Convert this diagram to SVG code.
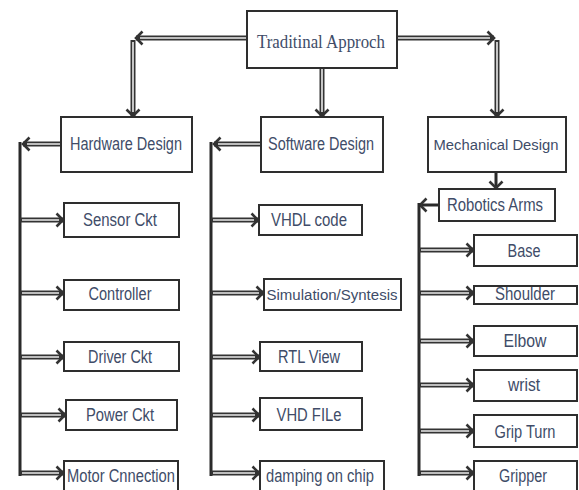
<svg xmlns="http://www.w3.org/2000/svg" width="579" height="490" viewBox="0 0 579 490">
<style>
.box{fill:#fff;stroke:#2e2e2e;stroke-width:2}
.lbl{font-family:"Liberation Sans",Arial,sans-serif;font-size:17.5px;fill:#404c68;text-anchor:middle}
.sm{font-size:15.5px}
.ttl{font-family:"Liberation Serif","Times New Roman",serif;font-size:19px;fill:#404c68;text-anchor:middle}
.sh{fill:none;stroke:#333;stroke-width:5}
.in{fill:none;stroke:#ececec;stroke-width:1.6}
.trunk{fill:none;stroke:#2a2a2a;stroke-width:3}
</style>
<defs>
<marker id="hd" markerUnits="userSpaceOnUse" markerWidth="14" markerHeight="16" refX="8" refY="7" orient="auto" viewBox="0 0 14 14">
<path d="M1.5,0.5 L8,7 L1.5,13.5" fill="none" stroke="#333" stroke-width="2.6"/>
</marker>
</defs>
<g id="connectors">
<path class="sh" d="M247,38 H136" marker-end="url(#hd)"/><path class="in" d="M247,38 H140"/>
<path class="sh" d="M133,40 V116" marker-end="url(#hd)"/><path class="in" d="M133,42 V112"/>
<path class="sh" d="M322,68 V116" marker-end="url(#hd)"/><path class="in" d="M322,69 V112"/>
<path class="sh" d="M397,38 H494" marker-end="url(#hd)"/><path class="in" d="M397,38 H490"/>
<path class="sh" d="M497,40 V116" marker-end="url(#hd)"/><path class="in" d="M497,42 V112"/>
<path class="sh" d="M61,144 H23" marker-end="url(#hd)"/><path class="in" d="M61,144 H27"/>
<path class="trunk" d="M20,142 V476"/>
<path class="sh" d="M20,220 H63" marker-end="url(#hd)"/><path class="in" d="M22,220 H59"/>
<path class="sh" d="M20,293 H63" marker-end="url(#hd)"/><path class="in" d="M22,293 H59"/>
<path class="sh" d="M20,357 H63" marker-end="url(#hd)"/><path class="in" d="M22,357 H59"/>
<path class="sh" d="M20,415 H65" marker-end="url(#hd)"/><path class="in" d="M22,415 H61"/>
<path class="sh" d="M20,473 H63" marker-end="url(#hd)"/><path class="in" d="M22,473 H59"/>
<path class="sh" d="M261,144 H214" marker-end="url(#hd)"/><path class="in" d="M261,144 H218"/>
<path class="trunk" d="M211,142 V476"/>
<path class="sh" d="M211,220 H258" marker-end="url(#hd)"/><path class="in" d="M213,220 H254"/>
<path class="sh" d="M211,293 H263" marker-end="url(#hd)"/><path class="in" d="M213,293 H259"/>
<path class="sh" d="M211,357 H259" marker-end="url(#hd)"/><path class="in" d="M213,357 H255"/>
<path class="sh" d="M211,415 H259" marker-end="url(#hd)"/><path class="in" d="M213,415 H255"/>
<path class="sh" d="M211,473 H259" marker-end="url(#hd)"/><path class="in" d="M213,473 H255"/>
<path class="trunk" d="M496,172 V188" marker-end="url(#hd)"/>
<path class="trunk" d="M439,205 H420" marker-end="url(#hd)"/>
<path class="trunk" d="M419,203 V476"/>
<path class="sh" d="M419,250 H473" marker-end="url(#hd)"/><path class="in" d="M421,250 H469"/>
<path class="sh" d="M419,293 H473" marker-end="url(#hd)"/><path class="in" d="M421,293 H469"/>
<path class="sh" d="M419,341 H473" marker-end="url(#hd)"/><path class="in" d="M421,341 H469"/>
<path class="sh" d="M419,385 H473" marker-end="url(#hd)"/><path class="in" d="M421,385 H469"/>
<path class="sh" d="M419,431 H473" marker-end="url(#hd)"/><path class="in" d="M421,431 H469"/>
<path class="sh" d="M419,473 H473" marker-end="url(#hd)"/><path class="in" d="M421,473 H469"/>
</g>
<g id="n-top"><rect class="box" x="247" y="11" width="150" height="57"/><text class="ttl" x="321" y="48" textLength="128" lengthAdjust="spacingAndGlyphs">Traditinal Approch</text></g>
<g id="n-hw"><rect class="box" x="61" y="117" width="131" height="55"/><text class="lbl" x="126" y="150" textLength="112" lengthAdjust="spacingAndGlyphs">Hardware Design</text></g>
<g id="n-sensor"><rect class="box" x="64" y="203" width="115" height="34"/><text class="lbl" x="120" y="226" textLength="74" lengthAdjust="spacingAndGlyphs">Sensor Ckt</text></g>
<g id="n-ctrl"><rect class="box" x="64" y="280" width="115" height="30"/><text class="lbl" x="120" y="300" textLength="63" lengthAdjust="spacingAndGlyphs">Controller</text></g>
<g id="n-driver"><rect class="box" x="64" y="342" width="115" height="29"/><text class="lbl" x="120" y="363" textLength="64" lengthAdjust="spacingAndGlyphs">Driver Ckt</text></g>
<g id="n-power"><rect class="box" x="66" y="400" width="111" height="30"/><text class="lbl" x="120" y="421" textLength="68" lengthAdjust="spacingAndGlyphs">Power Ckt</text></g>
<g id="n-motor"><rect class="box" x="64" y="461" width="114" height="32"/><text class="lbl" x="121" y="482" textLength="108" lengthAdjust="spacingAndGlyphs">Motor Cnnection</text></g>
<g id="n-sw"><rect class="box" x="261" y="117" width="122" height="55"/><text class="lbl" x="321" y="150" textLength="106" lengthAdjust="spacingAndGlyphs">Software Design</text></g>
<g id="n-vhdl"><rect class="box" x="259" y="205" width="103" height="30"/><text class="lbl" x="309" y="226" textLength="76" lengthAdjust="spacingAndGlyphs">VHDL code</text></g>
<g id="n-sim"><rect class="box" x="264" y="279" width="137" height="31"/><text class="lbl sm" x="332" y="300" textLength="131" lengthAdjust="spacingAndGlyphs">Simulation/Syntesis</text></g>
<g id="n-rtl"><rect class="box" x="260" y="342" width="102" height="29"/><text class="lbl" x="309" y="363" textLength="62" lengthAdjust="spacingAndGlyphs">RTL View</text></g>
<g id="n-vhd"><rect class="box" x="260" y="398" width="102" height="32"/><text class="lbl" x="309" y="421" textLength="65" lengthAdjust="spacingAndGlyphs">VHD FILe</text></g>
<g id="n-damp"><rect class="box" x="260" y="461" width="124" height="32"/><text class="lbl" x="320" y="482" textLength="108" lengthAdjust="spacingAndGlyphs">damping on chip</text></g>
<g id="n-mech"><rect class="box" x="428" y="117" width="138" height="55"/><text class="lbl sm" x="496" y="150" textLength="125" lengthAdjust="spacingAndGlyphs">Mechanical Design</text></g>
<g id="n-robot"><rect class="box" x="439" y="189" width="116" height="32"/><text class="lbl" x="495" y="211" textLength="96" lengthAdjust="spacingAndGlyphs">Robotics Arms</text></g>
<g id="n-base"><rect class="box" x="474" y="235" width="103" height="31"/><text class="lbl" x="524" y="257" textLength="33" lengthAdjust="spacingAndGlyphs">Base</text></g>
<g id="n-shoulder"><rect class="box" x="474" y="286" width="103" height="18"/><text class="lbl" x="525" y="300" textLength="60" lengthAdjust="spacingAndGlyphs">Shoulder</text></g>
<g id="n-elbow"><rect class="box" x="474" y="326" width="103" height="30"/><text class="lbl" x="525" y="347" textLength="43" lengthAdjust="spacingAndGlyphs">Elbow</text></g>
<g id="n-wrist"><rect class="box" x="474" y="370" width="103" height="31"/><text class="lbl" x="524" y="391" textLength="32" lengthAdjust="spacingAndGlyphs">wrist</text></g>
<g id="n-grip"><rect class="box" x="474" y="415" width="103" height="32"/><text class="lbl" x="525" y="438" textLength="61" lengthAdjust="spacingAndGlyphs">Grip Turn</text></g>
<g id="n-gripper"><rect class="box" x="474" y="461" width="103" height="32"/><text class="lbl" x="523" y="482" textLength="48" lengthAdjust="spacingAndGlyphs">Gripper</text></g>
</svg>
